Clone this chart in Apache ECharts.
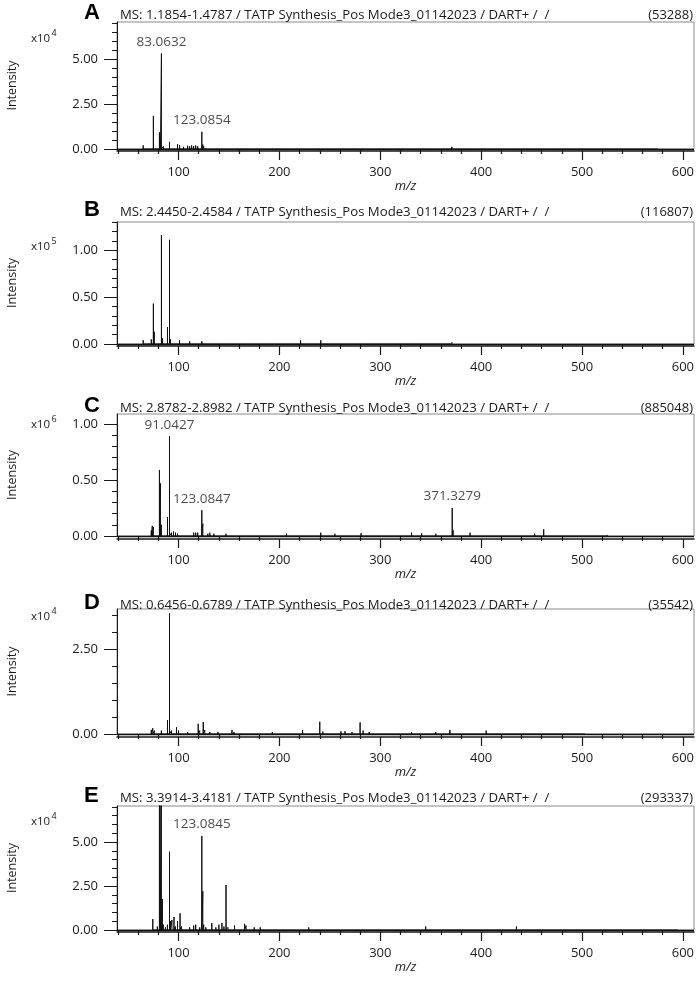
<!DOCTYPE html>
<html>
<head>
<meta charset="utf-8">
<title>TATP synthesis DART-MS spectra</title>
<script src="https://cdn.jsdelivr.net/npm/echarts@6/dist/echarts.min.js"></script>
<style>
  html, body { margin: 0; padding: 0; background: #fff; }
  #chart { width: 699px; height: 983px; }
</style>
</head>
<body>
<div id="chart"></div>
<script>
// panel meta
const panelLetters = ['A', 'B', 'C', 'D', 'E']
const scanRanges = ['1.1854-1.4787', '2.4450-2.4584', '2.8782-2.8982', '0.6456-0.6789', '3.3914-3.4181']
const basePeak = [53288, 116807, 885048, 35542, 293337]
const exponents = [4, 5, 6, 4, 4]

// axes (intensity in units of 10^exponent)
const mzMin = 39
const mzMax = 611
const mzMajorTicks = [100, 200, 300, 400, 500, 600]
const mzMinorStep = 20
const yMax = [7.09, 1.30, 1.09, 3.68, 7.05]
const yMajorTicks = [[0, 2.5, 5], [0, 0.5, 1], [0, 0.5, 1], [0, 2.5], [0, 2.5, 5]]
const yMinorStep = [0.5, 0.1, 0.1, 0.5, 0.5]

// peaks [m/z, intensity]
const peaksA = [[65, 0.2], [75.07, 1.85], [81.07, 0.93], [82.07, 0.45], [83.0632, 5.33], [85, 0.15],
  [91.05, 0.4], [99, 0.28], [101.06, 0.22], [105, 0.12], [109, 0.18], [111, 0.15], [113, 0.2], [115, 0.16],
  [117, 0.2], [119, 0.15], [123.0854, 0.96], [124.09, 0.25], [125, 0.15], [130, 0.1], [135, 0.08], [141, 0.1],
  [149, 0.08], [155, 0.08], [163, 0.06], [171, 0.08], [185, 0.1], [199, 0.06], [213, 0.08], [229, 0.06],
  [241, 0.08], [259, 0.1], [279, 0.08], [295, 0.06], [313, 0.06], [330, 0.08], [355, 0.08], [371, 0.12],
  [391, 0.05], [429, 0.04], [463, 0.05], [520, 0.03], [575, 0.03]]
const peaksB = [[65, 0.04], [73, 0.05], [75.07, 0.43], [76.07, 0.13], [83.06, 1.16], [84.07, 0.06],
  [89.06, 0.18], [91.05, 1.11], [92.05, 0.05], [101, 0.04], [111, 0.03], [123.08, 0.03], [141, 0.02],
  [163, 0.02], [185, 0.02], [221, 0.04], [241, 0.04], [281, 0.02], [331, 0.02], [371, 0.02]]
const peaksC = [[73, 0.05], [74, 0.09], [75.07, 0.08], [81.07, 0.59], [82.07, 0.47], [83.06, 0.1],
  [89.06, 0.17], [91.0427, 0.89], [93, 0.03], [95, 0.04], [97, 0.03], [99, 0.02], [115, 0.03], [117, 0.03],
  [119, 0.03], [123.0847, 0.23], [124.09, 0.11], [129, 0.02], [131, 0.03], [135, 0.02], [147, 0.02],
  [161, 0.015], [175, 0.015], [207, 0.02], [221, 0.015], [241, 0.03], [255, 0.02], [263, 0.015], [281, 0.025],
  [301, 0.015], [331, 0.03], [341, 0.025], [355, 0.02], [371.3279, 0.25], [372.33, 0.05], [389, 0.03],
  [405, 0.015], [453, 0.02], [462, 0.06], [495, 0.015], [525, 0.01]]
const peaksD = [[73, 0.12], [74.5, 0.17], [76, 0.1], [79, 0.05], [83, 0.1], [86, 0.05], [89.05, 0.41],
  [91.05, 3.55], [93, 0.1], [98, 0.2], [100, 0.1], [105, 0.05], [109, 0.06], [119.5, 0.3], [121, 0.1],
  [124.5, 0.35], [126, 0.12], [131, 0.06], [139, 0.06], [141, 0.05], [145, 0.05], [153, 0.12], [155, 0.06],
  [167, 0.05], [171, 0.05], [185, 0.04], [193, 0.06], [201, 0.04], [209, 0.05], [223, 0.12], [229, 0.05],
  [237, 0.04], [240, 0.36], [243, 0.07], [251, 0.05], [261, 0.08], [265, 0.08], [272, 0.06], [280, 0.34],
  [283, 0.1], [289, 0.06], [301, 0.05], [315, 0.05], [331, 0.06], [343, 0.05], [355, 0.06], [369, 0.12],
  [385, 0.05], [405, 0.1], [421, 0.03], [455, 0.03], [503, 0.02]]
const peaksE = [[74.5, 0.62], [77, 0.1], [79, 0.2], [81.07, 12.0], [82.07, 1.29], [83.06, 29.33],
  [84.07, 1.76], [85, 0.3], [87, 0.15], [89, 0.3], [91.05, 4.45], [92, 0.5], [93.5, 0.57], [95.5, 0.74],
  [97, 0.2], [99, 0.5], [101.5, 0.95], [103, 0.2], [107, 0.1], [111, 0.15], [115, 0.25], [117, 0.3],
  [121, 0.15], [123.0845, 5.35], [124.09, 2.2], [125, 0.3], [127, 0.15], [133, 0.4], [137, 0.15], [140, 0.3],
  [143, 0.4], [145, 0.2], [147.1, 2.56], [149, 0.15], [155.5, 0.25], [159, 0.1], [165.5, 0.35], [167, 0.25],
  [175, 0.15], [181, 0.15], [191, 0.1], [205, 0.08], [217, 0.08], [229, 0.15], [245, 0.08], [265, 0.08],
  [285, 0.06], [301, 0.06], [325, 0.06], [345, 0.2], [371, 0.06], [395, 0.06], [435, 0.2], [481, 0.05],
  [521, 0.05], [561, 0.04], [595, 0.04]]
const allPeaks = [peaksA, peaksB, peaksC, peaksD, peaksE]

// annotated m/z values
const annotated = [[83.0632, 123.0854], [], [91.0427, 123.0847, 371.3279], [], [123.0845]]

// layout
const gridLeft = 117
const gridWidth = 577
const gridTops = [22, 222, 414, 609, 806]
const gridHeights = [127, 122, 122, 125, 124]
const axisOffsets = [2, 2, 3, 3, 2]
const headerY = [15, 212, 408, 605, 798]
const expY = [39, 247, 425, 617, 822]

const FONT = '"Open Sans", "DejaVu Sans", sans-serif'
const INK = '#1a1a1a'

function steps(from, to, step) {
  const out = []
  for (let v = from; v <= to + 1e-9; v += step) out.push(Math.round(v * 1000) / 1000)
  return out
}

function sticks(peaks) {
  const pts = []
  peaks.slice().sort((a, b) => a[0] - b[0]).forEach(p => {
    pts.push([p[0], 0], [p[0], p[1]], [p[0], 0])
  })
  return pts
}

const chart = echarts.init(document.getElementById('chart'), null, { renderer: 'canvas' })

const grid = [], xAxis = [], yAxis = [], series = [], graphic = []
const mzMinor = steps(40, 600, mzMinorStep).filter(v => mzMajorTicks.indexOf(v) < 0)

panelLetters.forEach((letter, i) => {
  grid.push({
    left: gridLeft, width: gridWidth, top: gridTops[i], height: gridHeights[i],
    containLabel: false, outerBoundsMode: 'none',
    show: true, borderColor: '#8a8a8a', borderWidth: 1, backgroundColor: 'transparent'
  })
  const yMinor = steps(0, yMax[i], yMinorStep[i]).filter(v => yMajorTicks[i].indexOf(v) < 0)

  // major x axis with labels
  xAxis.push({
    type: 'value', gridIndex: i, min: mzMin, max: mzMax, position: 'bottom', offset: axisOffsets[i],
    axisLine: { show: true, onZero: false, lineStyle: { color: INK, width: 1.5 } },
    axisTick: { show: true, length: 9, customValues: mzMajorTicks, lineStyle: { color: INK, width: 1.2 } },
    axisLabel: { customValues: mzMajorTicks, margin: 15, fontSize: 13, color: INK, fontFamily: FONT },
    splitLine: { show: false },
    name: 'm/z', nameLocation: 'middle', nameGap: 29,
    nameTextStyle: { fontStyle: 'italic', fontSize: 13, color: INK, fontFamily: FONT }
  })
  // minor x ticks
  xAxis.push({
    type: 'value', gridIndex: i, min: mzMin, max: mzMax, position: 'bottom', offset: axisOffsets[i],
    axisLine: { show: false },
    axisTick: { show: true, length: 5, customValues: mzMinor, lineStyle: { color: INK, width: 1.2 } },
    axisLabel: { show: false }, splitLine: { show: false }
  })
  // major y axis
  yAxis.push({
    type: 'value', gridIndex: i, min: 0, max: yMax[i], position: 'left',
    axisLine: { show: true, onZero: false, lineStyle: { color: INK, width: 1 } },
    axisTick: { show: true, length: 13, customValues: yMajorTicks[i], lineStyle: { color: INK } },
    axisLabel: {
      customValues: yMajorTicks[i], margin: 19, fontSize: 13, color: INK, fontFamily: FONT,
      formatter: v => v.toFixed(2)
    },
    splitLine: { show: false },
    name: 'Intensity', nameLocation: 'middle', nameGap: 98, nameRotate: 90,
    nameTextStyle: { fontSize: 12.5, color: INK, fontFamily: FONT }
  })
  // minor y ticks
  yAxis.push({
    type: 'value', gridIndex: i, min: 0, max: yMax[i], position: 'left',
    axisLine: { show: false },
    axisTick: { show: true, length: 5, customValues: yMinor, lineStyle: { color: INK } },
    axisLabel: { show: false }, splitLine: { show: false }
  })

  series.push({
    type: 'line', xAxisIndex: 2 * i, yAxisIndex: 2 * i, data: sticks(allPeaks[i]),
    symbol: 'none', clip: true, lineStyle: { color: '#111', width: 1 }, animation: false, silent: true,
    markLine: {
      silent: true, symbol: 'none', label: { show: false },
      lineStyle: { type: 'solid', color: '#111', width: 1.4 },
      data: [{ yAxis: 0 }]
    }
  })
  const labelPts = annotated[i].map(mz => {
    const p = allPeaks[i].find(q => q[0] === mz)
    return [mz, p[1]]
  })
  series.push({
    type: 'scatter', xAxisIndex: 2 * i, yAxisIndex: 2 * i, data: labelPts,
    symbolSize: 1, itemStyle: { color: 'transparent' }, animation: false, silent: true,
    label: {
      show: true, position: 'top', distance: 4, fontSize: 13.5, color: INK, fontFamily: FONT,
      formatter: p => p.value[0].toFixed(4)
    }
  })

  graphic.push(
    { type: 'text', x: 84, y: headerY[i] - 2, style: { text: letter, font: 'bold 22px "Liberation Sans", Arial, sans-serif', fill: '#000', textVerticalAlign: 'middle' } },
    { type: 'text', x: 120, y: headerY[i], style: { text: 'MS: ' + scanRanges[i] + ' / TATP Synthesis_Pos Mode3_01142023 / DART+ /  /', font: '13.2px ' + FONT, fill: INK, textVerticalAlign: 'middle' } },
    { type: 'text', x: 693, y: headerY[i], style: { text: '(' + basePeak[i] + ')', font: '13px ' + FONT, fill: INK, textAlign: 'right', textVerticalAlign: 'middle' } },
    { type: 'text', x: 31, y: expY[i], style: { text: 'x10', font: '11.5px ' + FONT, fill: INK, textVerticalAlign: 'middle' } },
    { type: 'text', x: 51.5, y: expY[i] - 6, style: { text: String(exponents[i]), font: '9px ' + FONT, fill: INK, textVerticalAlign: 'middle' } }
  )
})

chart.setOption({
  backgroundColor: '#fff',
  animation: false,
  grid: grid,
  xAxis: xAxis,
  yAxis: yAxis,
  series: series,
  graphic: graphic
})
</script>
</body>
</html>
